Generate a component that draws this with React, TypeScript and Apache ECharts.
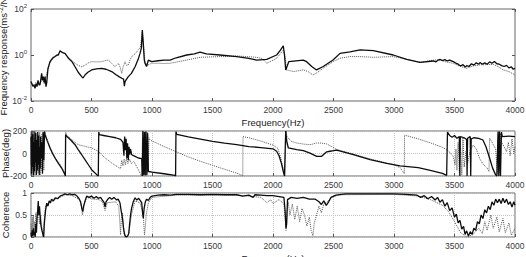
import React, { useEffect, useRef } from "react";
import * as echarts from "echarts";

// x ticks (Hz)
const freqTicks = [0, 500, 1000, 1500, 2000, 2500, 3000, 3500, 4000];

// Frequency response, stored as log10 of (ms^-2/N): [Hz, log10 value]
const respSolidLog: [number, number][] = [
  [0,-1.15],[6,-1.23],[15,-1.35],[25,-1.3],[33,-1.45],[42,-1.25],[50,-1.35],[58,-1.1],[66,-1.3],[74,-1.3],[80,-1.1],[88,-0.8],[95,-1.1],[102,-0.94],[110,-1.2],[116,-0.94],[124,-1.38],[130,-1.2],[140,-0.6],[157,-0.29],[180,-0.12],[198,-0.07],[215,0.0],[226,0.0],[240,0.19],[260,0.1],[281,0.07],[309,-0.14],[340,-0.3],[364,-0.51],[390,-0.75],[419,-0.94],[430,-1.0],[446,-0.87],[470,-0.75],[501,-0.65],[540,-0.6],[584,-0.58],[620,-0.62],[667,-0.72],[700,-0.85],[730,-0.95],[750,-1.01],[765,-1.05],[772,-1.35],[777,-1.16],[790,-1.05],[804,-0.94],[830,-0.8],[860,-0.51],[885,-0.2],[901,0.07],[912,0.3],[920,1.08],[928,0.5],[936,-0.2],[942,-0.36],[955,-0.5],[970,-0.22],[997,-0.29],[1050,-0.25],[1100,-0.22],[1149,-0.22],[1200,-0.12],[1287,0.0],[1350,0.05],[1397,0.12],[1450,0.05],[1562,0.0],[1700,-0.07],[1800,-0.15],[1865,-0.22],[1948,-0.19],[2030,0.0],[2060,0.2],[2085,0.4],[2095,0.0],[2105,-0.65],[2113,-0.55],[2130,-0.29],[2250,-0.22],[2278,-0.29],[2320,-0.5],[2360,-0.65],[2415,-0.5],[2496,-0.22],[2554,0.07],[2636,0.14],[2719,0.22],[2829,0.19],[2994,0.0],[3105,-0.19],[3215,-0.32],[3325,-0.26],[3345,-0.3],[3365,-0.22],[3380,-0.19],[3400,-0.24],[3420,-0.2],[3440,-0.26],[3460,-0.22],[3490,-0.29],[3510,-0.35],[3530,-0.4],[3550,-0.48],[3570,-0.42],[3590,-0.52],[3601,-0.46],[3620,-0.5],[3640,-0.38],[3660,-0.44],[3680,-0.34],[3700,-0.4],[3711,-0.33],[3730,-0.4],[3750,-0.34],[3770,-0.4],[3790,-0.3],[3810,-0.36],[3830,-0.28],[3850,-0.38],[3870,-0.4],[3890,-0.46],[3910,-0.5],[3930,-0.45],[3950,-0.56],[3970,-0.52],[3985,-0.62],[4000,-0.58]
];
const respDottedLog: [number, number][] = [
  [0,-1.2],[10,-1.3],[20,-1.4],[30,-1.3],[40,-1.2],[50,-1.4],[60,-1.15],[70,-1.25],[80,-1.2],[90,-0.9],[100,-1.05],[110,-1.25],[120,-1.0],[135,-0.7],[157,-0.35],[180,-0.15],[200,-0.07],[226,0.0],[240,0.15],[260,0.12],[281,0.05],[309,-0.1],[340,-0.25],[364,-0.36],[390,-0.45],[419,-0.51],[446,-0.45],[470,-0.35],[501,-0.29],[540,-0.3],[584,-0.29],[610,-0.25],[639,-0.22],[665,-0.35],[694,-0.51],[722,-0.36],[738,-0.55],[750,-0.8],[762,-0.5],[777,-0.29],[790,-0.45],[804,-0.43],[820,-0.2],[832,-0.07],[860,0.05],[887,0.22],[905,0.35],[920,1.0],[930,0.4],[942,-0.29],[960,-0.45],[997,-0.36],[1050,-0.36],[1100,-0.37],[1149,-0.36],[1287,-0.22],[1400,-0.1],[1562,-0.07],[1700,-0.04],[1865,-0.1],[1910,-0.15],[1948,-0.36],[1990,-0.25],[2030,-0.14],[2060,0.05],[2085,0.22],[2097,0.0],[2113,-0.65],[2170,-0.72],[2250,-0.65],[2290,-0.72],[2330,-0.87],[2370,-0.75],[2415,-0.57],[2496,-0.29],[2554,-0.14],[2636,-0.07],[2719,-0.07],[2829,-0.1],[2994,-0.07],[3105,-0.19],[3215,-0.32],[3325,-0.22],[3380,-0.22],[3430,-0.3],[3490,-0.36],[3550,-0.5],[3601,-0.58],[3650,-0.48],[3711,-0.43],[3760,-0.42],[3821,-0.41],[3860,-0.5],[3903,-0.65],[3950,-0.72],[4000,-0.87]
];

// Phase (deg)
const phaseSolid: [number, number][] = [
  [0,150],[4,-180],[8,190],[12,-120],[16,170],[20,-195],[24,100],[28,-160],[32,195],[36,-80],[40,180],[44,-190],[48,120],[52,-150],[56,190],[60,-100],[64,160],[68,-190],[72,60],[76,-130],[80,150],[85,-40],[90,100],[95,-180],[100,190],[106,-60],[112,195],[116,167],[135,110],[157,49],[178,0],[198,-40],[225,-85],[253,-129],[281,-188],[284,-200],[286,167],[295,153],[330,118],[364,78],[390,35],[419,-11],[446,-55],[474,-100],[501,-144],[543,-188],[556,-200],[560,190],[565,167],[600,160],[650,150],[700,140],[740,125],[760,100],[768,-20],[774,150],[780,30],[786,130],[792,-40],[798,90],[804,-60],[810,60],[816,-10],[822,40],[832,-11],[860,-25],[887,-40],[915,-45],[920,-200],[925,200],[932,-190],[938,190],[944,-195],[950,195],[958,-190],[964,180],[970,-160],[1000,-165],[1100,-180],[1190,-195],[1195,-200],[1198,195],[1205,170],[1300,148],[1400,128],[1500,108],[1600,92],[1700,78],[1800,62],[1900,52],[2000,42],[2030,20],[2050,-20],[2070,-90],[2085,-160],[2095,-200],[2105,200],[2115,100],[2127,49],[2196,34],[2251,25],[2306,4],[2361,-25],[2402,-25],[2444,15],[2471,20],[2500,25],[2526,30],[2664,-11],[2802,-55],[2940,-88],[3050,-110],[3200,-125],[3300,-150],[3400,-176],[3435,-195],[3438,-200],[3442,190],[3460,160],[3480,145],[3500,160],[3520,135],[3540,150],[3544,-200],[3548,150],[3580,140],[3600,125],[3604,-200],[3608,135],[3630,150],[3634,-200],[3638,130],[3660,140],[3700,135],[3735,120],[3760,60],[3790,-40],[3815,-130],[3840,-190],[3850,-200],[3860,195],[3866,-200],[3872,195],[3880,-200],[3888,190],[3895,150],[3950,155],[4000,150]
];
const phaseDotted: [number, number][] = [
  [0,-100],[4,170],[8,-190],[12,60],[16,-150],[20,190],[24,-50],[28,140],[32,-190],[36,180],[40,-120],[44,100],[48,-180],[52,190],[56,0],[60,-170],[64,130],[68,-60],[72,190],[76,-190],[80,80],[85,-150],[90,170],[95,-90],[100,180],[106,-150],[112,195],[118,175],[135,120],[157,60],[178,10],[198,-30],[225,-75],[253,-120],[281,-180],[285,-200],[287,190],[292,165],[320,140],[350,110],[391,78],[446,64],[501,49],[556,20],[612,-40],[667,-84],[722,-123],[740,-135],[750,-60],[760,-110],[770,-50],[780,-100],[790,-40],[800,-90],[815,-50],[830,-90],[850,-70],[880,-130],[905,-180],[915,-200],[922,195],[930,-195],[936,190],[942,-190],[948,195],[956,-195],[962,190],[968,-160],[975,140],[983,120],[1100,62],[1200,15],[1300,-30],[1400,-70],[1500,-105],[1600,-140],[1700,-175],[1745,-195],[1750,-200],[1752,150],[1800,140],[1900,110],[2000,75],[2040,45],[2065,-40],[2085,-140],[2098,-200],[2108,200],[2115,153],[2150,108],[2196,93],[2251,84],[2306,78],[2361,93],[2400,93],[2444,85],[2480,64],[2526,36],[2664,-5],[2802,-48],[2940,-85],[3000,-100],[3050,-125],[3085,-180],[3087,163],[3200,130],[3300,95],[3400,55],[3440,30],[3470,0],[3490,-28],[3505,-100],[3512,40],[3520,-150],[3530,100],[3540,-170],[3550,60],[3560,-190],[3570,140],[3580,-120],[3595,20],[3610,-80],[3630,30],[3655,75],[3680,40],[3710,-50],[3740,-100],[3770,-130],[3785,-160],[3790,137],[3810,100],[3840,40],[3855,-180],[3862,170],[3870,-170],[3880,180],[3890,100],[3910,60],[3930,15],[3945,100],[3960,-20],[3975,130],[3990,0],[4000,60]
];

// Coherence
const cohSolid: [number, number][] = [
  [0,0.1],[5,0.0],[10,0.15],[15,0.02],[20,0.2],[25,0.05],[30,0.12],[35,0.0],[40,0.3],[45,0.1],[50,0.45],[55,0.6],[60,0.82],[65,0.5],[70,0.7],[80,0.3],[90,0.15],[100,0.05],[105,0.0],[110,0.3],[120,0.6],[130,0.77],[140,0.7],[150,0.82],[160,0.78],[170,0.86],[185,0.82],[200,0.89],[220,0.87],[240,0.93],[260,0.95],[280,0.98],[300,0.96],[320,0.98],[340,0.96],[360,0.97],[380,0.93],[395,0.88],[410,0.8],[420,0.65],[428,0.58],[435,0.7],[445,0.8],[460,0.93],[480,0.9],[500,0.93],[520,0.88],[540,0.92],[555,0.88],[575,0.9],[590,0.84],[605,0.78],[612,0.68],[620,0.8],[635,0.86],[650,0.9],[667,0.86],[685,0.9],[708,0.84],[720,0.86],[735,0.78],[745,0.6],[755,0.45],[765,0.2],[772,0.08],[780,0.02],[790,0.0],[800,0.03],[808,0.08],[815,0.3],[825,0.55],[832,0.66],[845,0.8],[860,0.89],[875,0.84],[890,0.88],[905,0.82],[915,0.78],[922,0.55],[928,0.43],[935,0.65],[945,0.8],[956,0.86],[970,0.83],[985,0.9],[1000,0.93],[1050,0.95],[1100,0.96],[1150,0.95],[1200,0.97],[1300,0.97],[1400,0.96],[1500,0.97],[1600,0.96],[1700,0.96],[1750,0.93],[1800,0.95],[1835,0.9],[1850,0.96],[1900,0.95],[1950,0.94],[2000,0.94],[2050,0.92],[2090,0.9],[2100,0.6],[2107,0.2],[2113,0.3],[2120,0.85],[2150,0.9],[2200,0.88],[2250,0.9],[2300,0.86],[2350,0.86],[2380,0.8],[2400,0.74],[2420,0.82],[2440,0.72],[2460,0.8],[2480,0.9],[2520,0.95],[2600,0.98],[2800,0.98],[3000,0.98],[3100,0.97],[3190,0.95],[3220,0.9],[3250,0.94],[3280,0.87],[3310,0.92],[3340,0.84],[3360,0.9],[3380,0.79],[3400,0.85],[3420,0.7],[3440,0.78],[3460,0.6],[3480,0.66],[3500,0.45],[3515,0.52],[3530,0.32],[3545,0.38],[3560,0.18],[3575,0.24],[3587,0.06],[3600,0.14],[3615,0.02],[3630,0.12],[3645,0.06],[3660,0.2],[3675,0.15],[3690,0.35],[3705,0.3],[3720,0.5],[3735,0.42],[3750,0.62],[3765,0.55],[3780,0.7],[3795,0.62],[3810,0.8],[3825,0.72],[3840,0.86],[3855,0.78],[3870,0.86],[3885,0.76],[3900,0.88],[3915,0.78],[3930,0.86],[3945,0.74],[3960,0.8],[3975,0.68],[3990,0.8],[4000,0.72]
];
const cohDotted: [number, number][] = [
  [0,0.3],[5,0.05],[10,0.45],[15,0.1],[20,0.5],[25,0.0],[30,0.35],[35,0.05],[40,0.55],[45,0.2],[50,0.4],[60,0.6],[70,0.3],[80,0.5],[90,0.2],[100,0.0],[110,0.4],[120,0.7],[150,0.75],[200,0.86],[240,0.9],[280,0.96],[340,0.94],[400,0.85],[418,0.7],[425,0.5],[440,0.75],[460,0.9],[520,0.86],[560,0.85],[590,0.8],[612,0.6],[630,0.78],[700,0.8],[725,0.7],[735,0.3],[740,0.05],[746,0.4],[755,0.55],[765,0.15],[775,0.0],[790,0.0],[805,0.05],[815,0.2],[830,0.5],[860,0.82],[900,0.78],[920,0.6],[930,0.4],[938,0.05],[944,0.2],[952,0.5],[970,0.78],[1000,0.9],[1200,0.95],[1700,0.95],[1800,0.93],[1900,0.9],[1950,0.78],[1980,0.85],[2000,0.76],[2050,0.85],[2090,0.75],[2100,0.45],[2108,0.15],[2115,0.55],[2125,0.8],[2140,0.5],[2160,0.75],[2180,0.4],[2200,0.7],[2220,0.35],[2240,0.65],[2260,0.5],[2280,0.25],[2300,0.45],[2315,0.15],[2330,0.03],[2340,0.3],[2360,0.5],[2380,0.7],[2400,0.55],[2420,0.75],[2450,0.8],[2480,0.9],[2550,0.96],[3000,0.97],[3200,0.93],[3300,0.85],[3400,0.72],[3450,0.58],[3500,0.35],[3550,0.1],[3600,0.0],[3650,0.05],[3700,0.2],[3730,0.08],[3750,0.35],[3770,0.15],[3800,0.5],[3820,0.2],[3850,0.45],[3870,0.12],[3900,0.42],[3920,0.1],[3950,0.32],[3970,0.04],[4000,0.2]
];

const FONT = "'Liberation Sans', Arial, sans-serif";
const TXT = "#3a3a3a";
const FMIN = freqTicks[0];
const FMAX = freqTicks[freqTicks.length - 1];
const FSTEP = freqTicks[1] - freqTicks[0];

export default function App() {
  const ref = useRef<HTMLDivElement>(null);
  useEffect(() => {
    if (!ref.current) return;
    const chart = echarts.init(ref.current, undefined, { renderer: "svg" });
    const tick = { inside: true, length: 3, lineStyle: { color: "#555" } };
    const label = { color: TXT, fontSize: 8.5, fontFamily: FONT, margin: 4 };
    const xLabel = { ...label, formatter: (v: number) => String(v) };
    const noLine = { show: false, onZero: false };
    const dotGrid = { show: true, lineStyle: { color: "#c4c4c4", type: "dotted" as const, width: 1 } };
    const xBase = (gi: number, extra: any = {}) => ({
      type: "value", gridIndex: gi, min: FMIN, max: FMAX, interval: FSTEP,
      axisLine: noLine, axisTick: tick, axisLabel: xLabel, splitLine: { show: false },
      nameMoveOverlap: false, ...extra,
    });
    const supRich = {
      sup: { fontSize: 6, fontFamily: FONT, color: TXT, padding: [0, 0, 6, 0] },
      b: { fontSize: 8.5, fontFamily: FONT, color: TXT },
    };
    const nameStyle = { color: "#222", fontSize: 9.5, fontFamily: FONT };
    const yName = (name: string, extraStyle: any = {}) => ({
      name, nameLocation: "middle", nameGap: 21, nameMoveOverlap: false,
      nameTextStyle: { ...nameStyle, ...extraStyle },
    });
    const line = (data: [number, number][], gi: number, dotted: boolean) => ({
      type: "line", xAxisIndex: gi, yAxisIndex: gi, data, showSymbol: false, symbol: "none",
      clip: true,
      lineStyle: dotted
        ? { color: "#555", width: 1, type: "dotted" as const }
        : { color: "#0d0d0d", width: 1.3 },
      z: dotted ? 2 : 3,
    });
    const gridBase = { left: 31, right: 11, show: true, borderColor: "#666", borderWidth: 1, outerBoundsMode: "none", containLabel: false };
    chart.setOption({
      animation: false,
      backgroundColor: "#fff",
      grid: [
        { ...gridBase, top: 9, height: 92 },
        { ...gridBase, top: 131, height: 45 },
        { ...gridBase, top: 193, height: 44 },
      ],
      xAxis: [
        xBase(0, { name: "Frequency(Hz)", nameLocation: "middle", nameGap: 16, nameTextStyle: nameStyle }),
        xBase(1, { splitLine: dotGrid }),
        xBase(2, { splitLine: dotGrid, name: "Frequency(Hz)", nameLocation: "middle", nameGap: 16, nameTextStyle: nameStyle }),
        xBase(0, { position: "top", axisLabel: { show: false } }),
      ],
      yAxis: [
        {
          type: "value", gridIndex: 0, min: -2, max: 2, interval: 2,
          axisLine: noLine, axisTick: tick, splitLine: { show: false },
          axisLabel: { ...label, formatter: (v: number) => `{b|10}{sup|${v}}`, rich: supRich },
          ...yName("Frequency response(ms{sup|-2}/N)", { rich: { sup: { fontSize: 6.5, fontFamily: FONT, color: "#222", padding: [0, 0, 6, 0] } } }),
        },
        {
          type: "value", gridIndex: 1, min: -200, max: 200, interval: 200,
          axisLine: noLine, axisTick: tick, axisLabel: label, splitLine: dotGrid,
          ...yName("Phase(deg)"),
        },
        {
          type: "value", gridIndex: 2, min: 0, max: 1, interval: 0.5,
          axisLine: noLine, axisTick: tick, axisLabel: label, splitLine: dotGrid,
          ...yName("Coherence"),
        },
        {
          type: "value", gridIndex: 0, position: "right", min: -2, max: 2, interval: 2,
          axisLine: noLine, axisTick: tick, axisLabel: { show: false }, splitLine: { show: false },
        },
      ],
      series: [
        line(respDottedLog, 0, true),
        line(respSolidLog, 0, false),
        line(phaseDotted, 1, true),
        line(phaseSolid, 1, false),
        line(cohDotted, 2, true),
        line(cohSolid, 2, false),
      ],
    });
    return () => chart.dispose();
  }, []);
  return <div ref={ref} style={{ position: "absolute", left: 0, top: 0, width: 526, height: 257 }} />;
}
